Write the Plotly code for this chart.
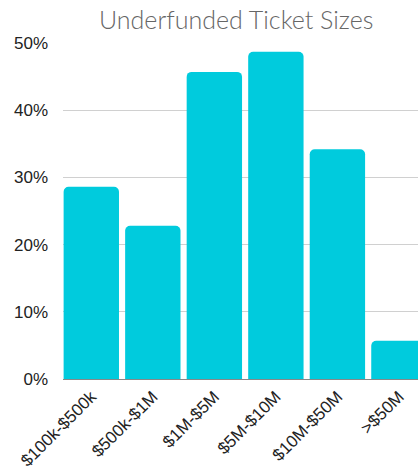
import plotly.graph_objects as go

categories = ["$100k-$500k", "$500k-$1M", "$1M-$5M", "$5M-$10M", "$10M-$50M", ">$50M"]
values = [0.286, 0.228, 0.457, 0.487, 0.342, 0.057]
tick_vals = [0, 0.1, 0.2, 0.3, 0.4, 0.5]
tick_text = ["0%", "10%", "20%", "30%", "40%", "50%"]

fig = go.Figure(go.Bar(
    x=categories, y=values, marker=dict(color="#00CBDD", line=dict(width=0)),
))
fig.update_layout(
    width=418, height=470,
    margin=dict(l=63, r=0, t=43, b=91),
    paper_bgcolor="white", plot_bgcolor="white",
    bargap=0.1, barcornerradius=5,
    font=dict(family="Liberation Sans, Arial, sans-serif", color="#222"),
    title=dict(text="Underfunded Ticket Sizes", x=0.565, xanchor="center", y=0.957, yanchor="middle",
               font=dict(family="Lato, Liberation Sans, sans-serif", size=25, color="#666", weight=300)),
    showlegend=False,
)
fig.update_xaxes(range=[-0.46, 5.31], tickangle=-45, tickfont=dict(size=17, color="#222"),
                 showline=True, linecolor="#888", linewidth=1, ticks="", showgrid=False)
fig.update_yaxes(range=[0, 0.5], tickvals=tick_vals, ticktext=tick_text,
                 tickfont=dict(size=17, color="#222"), showgrid=True, gridcolor="#d0d0d0",
                 gridwidth=1, zeroline=False, ticks="", ticklabelstandoff=14)
fig.write_html("out.html", config={"displayModeBar": False},
               post_script="document.body.style.margin='0';document.body.style.overflow='hidden';")
